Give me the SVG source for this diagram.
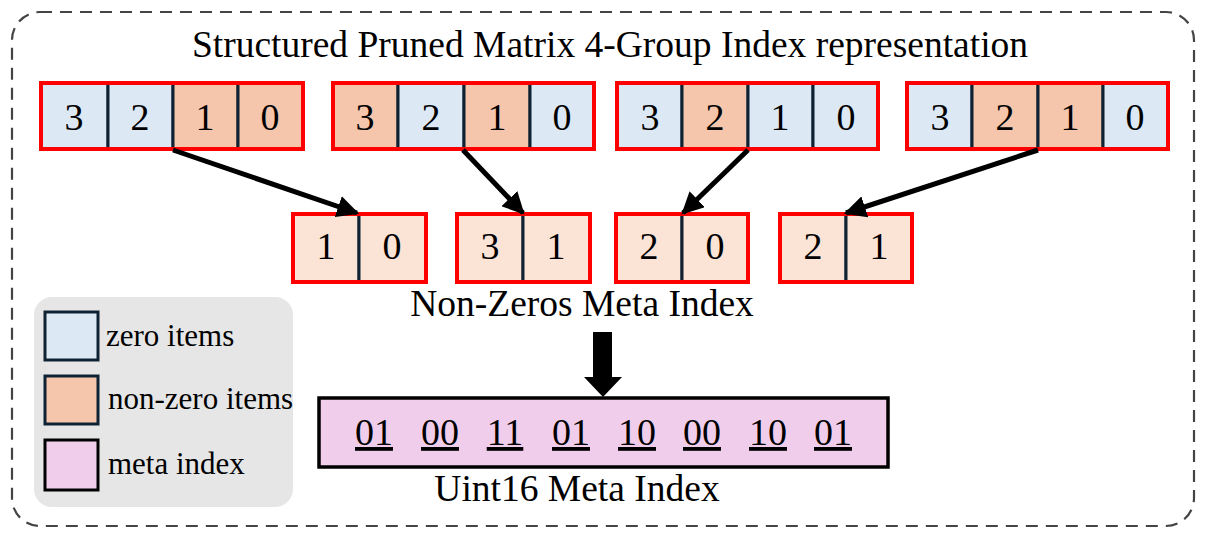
<svg xmlns="http://www.w3.org/2000/svg" width="1206" height="538" viewBox="0 0 1206 538">
<style>
text{font-family:"Liberation Serif","Times New Roman",serif;fill:#000}
.big{font-size:37.5px}
.num{font-size:38px;text-anchor:middle}
.leg{font-size:31px}
.z{fill:#dce9f5;stroke:#0e2233;stroke-width:3}
.n{fill:#f5c6ab;stroke:#0e2233;stroke-width:3}
.p{fill:#fbe3d6;stroke:#0e2233;stroke-width:3}
.red{fill:none;stroke:#ff0000;stroke-width:4}
.conn{stroke:#000;stroke-width:5;fill:none}
</style>
<defs>
<marker id="ah" viewBox="0 0 10 10" refX="9" refY="5" markerWidth="4.4" markerHeight="4.4" orient="auto" markerUnits="strokeWidth">
<path d="M0,0 L10,5 L0,10 z" fill="#000"/>
</marker>
</defs>
<rect x="12" y="12" width="1182" height="514" rx="28" fill="#fff" stroke="#444" stroke-width="2.2" stroke-dasharray="12,8"/>
<text class="big" x="610" y="57" text-anchor="middle">Structured Pruned Matrix 4-Group Index representation</text>

<g id="group1">
<rect class="z" x="41" y="83" width="67" height="66"/>
<rect class="z" x="108" y="83" width="65" height="66"/>
<rect class="n" x="173" y="83" width="65" height="66"/>
<rect class="n" x="238" y="83" width="65" height="66"/>
<rect class="red" x="41" y="83" width="262" height="66"/>
<text class="num" x="74" y="130">3</text><text class="num" x="140" y="130">2</text><text class="num" x="205" y="130">1</text><text class="num" x="270" y="130">0</text>
</g>
<g id="group2">
<rect class="n" x="333" y="83" width="65" height="66"/>
<rect class="z" x="398" y="83" width="66" height="66"/>
<rect class="n" x="464" y="83" width="66" height="66"/>
<rect class="z" x="530" y="83" width="64" height="66"/>
<rect class="red" x="333" y="83" width="261" height="66"/>
<text class="num" x="365" y="130">3</text><text class="num" x="431" y="130">2</text><text class="num" x="497" y="130">1</text><text class="num" x="562" y="130">0</text>
</g>
<g id="group3">
<rect class="z" x="617" y="83" width="65" height="66"/>
<rect class="n" x="682" y="83" width="66" height="66"/>
<rect class="z" x="748" y="83" width="65" height="66"/>
<rect class="z" x="813" y="83" width="65" height="66"/>
<rect class="red" x="617" y="83" width="261" height="66"/>
<text class="num" x="650" y="130">3</text><text class="num" x="715" y="130">2</text><text class="num" x="780" y="130">1</text><text class="num" x="846" y="130">0</text>
</g>
<g id="group4">
<rect class="z" x="907" y="83" width="65" height="66"/>
<rect class="n" x="972" y="83" width="66" height="66"/>
<rect class="n" x="1038" y="83" width="65" height="66"/>
<rect class="z" x="1103" y="83" width="65" height="66"/>
<rect class="red" x="907" y="83" width="261" height="66"/>
<text class="num" x="940" y="130">3</text><text class="num" x="1005" y="130">2</text><text class="num" x="1070" y="130">1</text><text class="num" x="1135" y="130">0</text>
</g>

<g id="pair1">
<rect class="p" x="293" y="214" width="66" height="68"/>
<rect class="p" x="359" y="214" width="67" height="68"/>
<rect class="red" x="293" y="214" width="133" height="68"/>
<text class="num" x="326" y="259">1</text><text class="num" x="392" y="259">0</text>
</g>
<g id="pair2">
<rect class="p" x="457" y="214" width="66" height="68"/>
<rect class="p" x="523" y="214" width="67" height="68"/>
<rect class="red" x="457" y="214" width="133" height="68"/>
<text class="num" x="490" y="259">3</text><text class="num" x="556" y="259">1</text>
</g>
<g id="pair3">
<rect class="p" x="616" y="214" width="66" height="68"/>
<rect class="p" x="682" y="214" width="66" height="68"/>
<rect class="red" x="616" y="214" width="132" height="68"/>
<text class="num" x="649" y="259">2</text><text class="num" x="715" y="259">0</text>
</g>
<g id="pair4">
<rect class="p" x="780" y="214" width="66" height="68"/>
<rect class="p" x="846" y="214" width="66" height="68"/>
<rect class="red" x="780" y="214" width="132" height="68"/>
<text class="num" x="813" y="259">2</text><text class="num" x="879" y="259">1</text>
</g>

<text class="big" x="582" y="316" text-anchor="middle">Non-Zeros Meta Index</text>

<g id="connectors">
<line class="conn" x1="173" y1="150" x2="357" y2="213" marker-end="url(#ah)"/>
<line class="conn" x1="463" y1="150" x2="523" y2="213" marker-end="url(#ah)"/>
<line class="conn" x1="748" y1="150" x2="683" y2="213" marker-end="url(#ah)"/>
<line class="conn" x1="1038" y1="150" x2="846" y2="213" marker-end="url(#ah)"/>
<path d="M593,332 H612 V377 H622 L603,397 L584,377 H593 Z" fill="#000"/>
</g>

<g id="meta">
<rect x="319" y="398" width="569" height="69" fill="#f1cdec" stroke="#000" stroke-width="3.5"/>
<text class="num" x="374" y="445" text-decoration="underline">01</text>
<text class="num" x="440" y="445" text-decoration="underline">00</text>
<text class="num" x="505" y="445" text-decoration="underline">11</text>
<text class="num" x="571" y="445" text-decoration="underline">01</text>
<text class="num" x="637" y="445" text-decoration="underline">10</text>
<text class="num" x="702" y="445" text-decoration="underline">00</text>
<text class="num" x="768" y="445" text-decoration="underline">10</text>
<text class="num" x="833" y="445" text-decoration="underline">01</text>
</g>
<text class="big" x="577" y="501" text-anchor="middle">Uint16 Meta Index</text>

<g id="legend">
<rect x="34" y="297" width="259" height="210" rx="18" fill="#e6e6e6"/>
<rect x="45" y="312" width="53" height="48" fill="#dce9f5" stroke="#0e2233" stroke-width="3"/>
<rect x="45" y="376" width="53" height="48" fill="#f5c6ab" stroke="#0e2233" stroke-width="3"/>
<rect x="45" y="440" width="53" height="50" fill="#f1cdec" stroke="#000" stroke-width="3"/>
<text class="leg" x="106" y="346">zero items</text>
<text class="leg" x="108" y="409">non-zero items</text>
<text class="leg" x="108" y="474">meta index</text>
</g>
</svg>
